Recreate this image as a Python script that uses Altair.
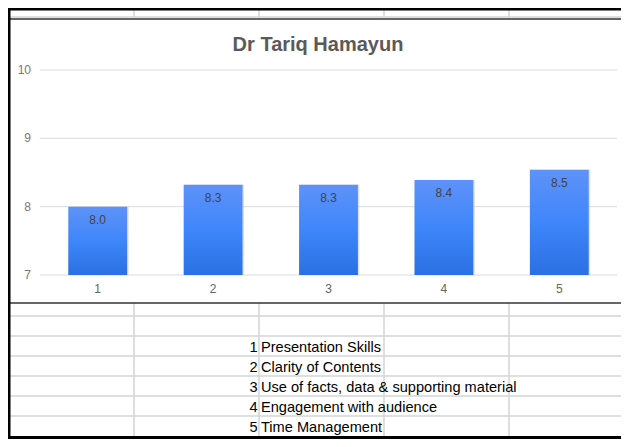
import altair as alt
import pandas as pd

# ---------------- data ----------------
title_text = "Dr Tariq Hamayun"
categories = ["1", "2", "3", "4", "5"]
scores = [8.0, 8.32, 8.32, 8.39, 8.54]
score_labels = ["8.0", "8.3", "8.3", "8.4", "8.5"]
y_ticks = [7, 8, 9, 10]
item_numbers = [1, 2, 3, 4, 5]
item_names = [
    "Presentation Skills",
    "Clarity of  Contents",
    "Use of facts, data & supporting material",
    "Engagement with audience",
    "Time Management",
]

# ---------------- layout (pixels, page offset removed) ----------------
OFF = 8
W, H = 613, 431
PX0, PX1 = 40 - OFF, 617 - OFF          # plot area left/right
PY_TOP, PY_BOT = 70 - OFF, 275 - OFF    # y=10 and y=7
FONT = "Liberation Sans"

xscale = alt.Scale(domain=categories, range=[PX0, PX1], paddingInner=0.49, paddingOuter=0.245)
yscale = alt.Scale(domain=[7, 10], range=[PY_BOT, PY_TOP], nice=False, zero=False)

bar_df = pd.DataFrame({"cat": categories, "score": scores, "label": score_labels})
tick_df = pd.DataFrame({"v": y_ticks, "t": [str(v) for v in y_ticks]})

grid = alt.Chart(tick_df).mark_rule(color="#dcdcdc", strokeWidth=1).encode(
    y=alt.Y("v:Q", scale=yscale, axis=None),
    x=alt.value(PX0), x2=alt.value(PX1),
)
ytick_labels = alt.Chart(tick_df).mark_text(
    align="right", baseline="middle", fontSize=12, font=FONT, color="#777777"
).encode(
    y=alt.Y("v:Q", scale=yscale, axis=None),
    x=alt.value(31 - OFF),
    text="t:N",
)
shadow = alt.Chart(bar_df).mark_bar(color="#bbbbbb", opacity=0.45, xOffset=1.5).encode(
    x=alt.X("cat:N", scale=xscale, axis=None),
    y=alt.Y("score:Q", scale=yscale, axis=None),
    y2=alt.datum(7),
)
bars = alt.Chart(bar_df).mark_bar(
    color=alt.Gradient(
        gradient="linear",
        stops=[
            alt.GradientStop(color="#5e92f8", offset=0),
            alt.GradientStop(color="#3f86fb", offset=0.5),
            alt.GradientStop(color="#2a70e2", offset=1),
        ],
        x1=0, x2=0, y1=0, y2=1,
    )
).encode(
    x=alt.X("cat:N", scale=xscale, axis=None),
    y=alt.Y("score:Q", scale=yscale, axis=None),
    y2=alt.datum(7),
)
bar_text = alt.Chart(bar_df).mark_text(
    baseline="middle", dy=13, fontSize=12, font=FONT, color="#444444"
).encode(
    x=alt.X("cat:N", scale=xscale, axis=None),
    y=alt.Y("score:Q", scale=yscale, axis=None),
    text="label:N",
)
xtick_labels = alt.Chart(bar_df).mark_text(
    baseline="middle", fontSize=12, font=FONT, color="#666666"
).encode(
    x=alt.X("cat:N", scale=xscale, axis=None),
    y=alt.value(289 - OFF),
    text="cat:N",
)
title = alt.Chart(pd.DataFrame({"t": [title_text]})).mark_text(
    baseline="middle", fontSize=20, fontWeight="bold", font=FONT, color="#5a5a5a"
).encode(x=alt.value(318 - OFF), y=alt.value(45 - OFF), text="t:N")

bar_group = alt.layer(grid, ytick_labels, shadow, bars, bar_text, xtick_labels)

# ---------------- spreadsheet decoration ----------------
col_lines = [134, 259, 384, 509]
row_lines = [316, 336, 356, 376, 396, 416]
BOTTOM = 437.5
vlines = []
for c in col_lines:
    vlines.append({"x": c - OFF, "y": 0, "y2": 17 - OFF})
    vlines.append({"x": c - OFF, "y": 303 - OFF, "y2": BOTTOM - OFF})
hlines = [{"y": r - OFF, "x": 0, "x2": W} for r in row_lines] + [{"y": 17 - OFF, "x": 0, "x2": W}]

grid_v = alt.Chart(pd.DataFrame(vlines)).mark_rule(color="#d4d4d4", strokeWidth=1.5).encode(
    x=alt.X("x:Q", scale=None), y=alt.Y("y:Q", scale=None), y2="y2:Q"
)
grid_h = alt.Chart(pd.DataFrame(hlines)).mark_rule(color="#d4d4d4", strokeWidth=1.5).encode(
    y=alt.Y("y:Q", scale=None), x=alt.X("x:Q", scale=None), x2="x2:Q"
)
chart_edges = alt.Chart(pd.DataFrame([{"y": 19 - OFF}, {"y": 303 - OFF}])).mark_rule(
    color="#333333", strokeWidth=1.5
).encode(y=alt.Y("y:Q", scale=None), x=alt.value(0), x2=alt.value(W))
black_h = alt.Chart(pd.DataFrame([{"y": 1}, {"y": BOTTOM - OFF}])).mark_rule(
    color="#000000", strokeWidth=3
).encode(y=alt.Y("y:Q", scale=None), x=alt.value(0), x2=alt.value(W))
black_v = alt.Chart(pd.DataFrame([{"x": 1}])).mark_rule(color="#000000", strokeWidth=3).encode(
    x=alt.X("x:Q", scale=None), y=alt.value(0), y2=alt.value(BOTTOM - OFF + 1.5)
)

# ---------------- table text ----------------
tab_df = pd.DataFrame({"n": item_numbers, "name": item_names, "ns": [str(n) for n in item_numbers]})
rowscale = alt.Scale(domain=[1, 5], range=[348 - OFF, 428 - OFF], nice=False, zero=False)
tab_num = alt.Chart(tab_df).mark_text(
    align="right", baseline="middle", fontSize=14.6, font=FONT, color="#000000"
).encode(y=alt.Y("n:Q", scale=rowscale, axis=None), x=alt.value(257.5 - OFF), text="ns:N")
tab_name = alt.Chart(tab_df).mark_text(
    align="left", baseline="middle", fontSize=14.6, font=FONT, color="#000000"
).encode(y=alt.Y("n:Q", scale=rowscale, axis=None), x=alt.value(261 - OFF), text="name:N")
table_group = alt.layer(tab_num, tab_name)

chart = alt.layer(
    grid_v, grid_h, chart_edges, black_h, black_v, bar_group, title, table_group
).resolve_scale(x="independent", y="independent").properties(
    width=W, height=H, autosize=alt.AutoSizeParams(type="none"), padding=0,
    background="white",
).configure_view(stroke=None)

chart.save("out.html", embed_options={"renderer": "svg", "actions": False})
